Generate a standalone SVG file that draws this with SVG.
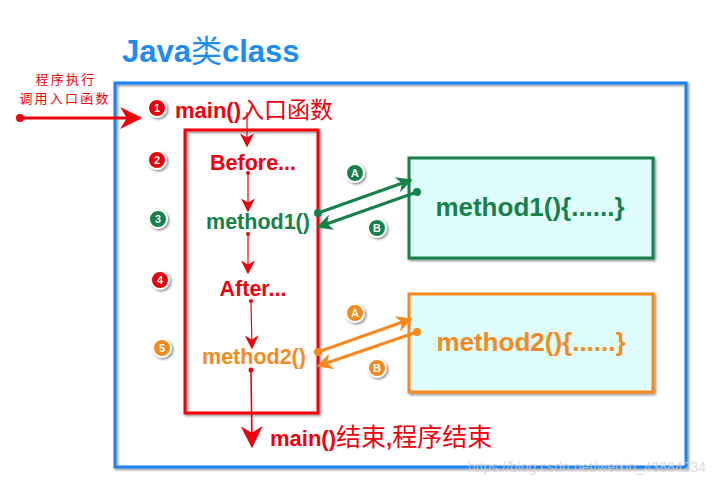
<svg xmlns="http://www.w3.org/2000/svg" width="717" height="485" viewBox="0 0 717 485">
<style>
.cn{font-family:"Liberation Sans","Noto Sans CJK SC",sans-serif;font-weight:bold}
.cj{font-family:"Noto Sans CJK SC",sans-serif;font-weight:normal}
.badge text{font-family:"Liberation Sans",sans-serif;font-weight:bold;font-size:11px;fill:#fff;text-anchor:middle}
.badge circle{stroke:#fff;stroke-width:2}
.red{fill:#F0000A}
.grn{fill:#17814A}
.org{fill:#F7891F}
</style>
<defs>
<filter id="sh" x="-10%" y="-10%" width="130%" height="130%">
<feDropShadow dx="1.5" dy="1.5" stdDeviation="1.2" flood-color="#000" flood-opacity="0.45"/>
</filter>
<marker id="ahRb" viewBox="0 0 10 10" refX="9" refY="5" markerWidth="14" markerHeight="14" orient="auto" markerUnits="userSpaceOnUse"><path d="M0,0 L10,5 L0,10 L3,5 Z" fill="#F0000A"/></marker>
<marker id="ahBig" viewBox="0 0 10 10" refX="9" refY="5" markerWidth="24" markerHeight="22" orient="auto" markerUnits="userSpaceOnUse"><path d="M0,0 L10,5 L0,10 L3,5 Z" fill="#F0000A"/></marker>
<marker id="ahG" viewBox="0 0 10 10" refX="9" refY="5" markerWidth="22" markerHeight="16" orient="auto" markerUnits="userSpaceOnUse"><path d="M0,0 L10,5 L0,10 L3,5 Z" fill="#17814A"/></marker>
<marker id="ahO" viewBox="0 0 10 10" refX="9" refY="5" markerWidth="22" markerHeight="16" orient="auto" markerUnits="userSpaceOnUse"><path d="M0,0 L10,5 L0,10 L3,5 Z" fill="#F7891F"/></marker>
</defs>
<rect width="717" height="485" fill="#fff"/>

<g id="title"><text class="cn" x="122" y="62" font-size="31" fill="#1E8CF0">Java<tspan class="cj">类</tspan>class</text></g>

<g id="java-class"><rect x="115" y="83" width="571" height="384" fill="none" stroke="#1E82F0" stroke-width="3" filter="url(#sh)"/></g>

<g id="caller-label">
<text x="66" y="84" font-family="Noto Sans CJK SC,sans-serif" font-size="13" letter-spacing="2.2" fill="#F0000A" text-anchor="middle">程序执行</text>
<text x="65" y="103" font-family="Noto Sans CJK SC,sans-serif" font-size="13" letter-spacing="2.2" fill="#F0000A" text-anchor="middle">调用入口函数</text>
</g>

<g id="main-box"><rect x="185" y="130" width="133" height="283" fill="none" stroke="#F0000A" stroke-width="3" filter="url(#sh)"/></g>

<g id="labels">
<text class="cn red" x="175" y="118" font-size="22">main()<tspan class="cj" font-size="23">入口函数</tspan></text>
<text class="cn red" x="253" y="170" font-size="21.5" text-anchor="middle">Before...</text>
<text class="cn grn" x="258" y="229" font-size="21.5" text-anchor="middle">method1()</text>
<text class="cn red" x="253" y="296" font-size="21.5" text-anchor="middle">After...</text>
<text class="cn org" x="254" y="364" font-size="21.5" text-anchor="middle">method2()</text>
<text class="cn red" x="270" y="446" font-size="22">main()<tspan class="cj" font-size="25">结束</tspan>,<tspan class="cj" font-size="25">程序结束</tspan></text>
</g>

<g id="method1-box"><rect x="409" y="158" width="244" height="100" fill="#DFFDFD" stroke="#17814A" stroke-width="3" filter="url(#sh)"/>
<text class="cn grn" x="530" y="216" font-size="26" text-anchor="middle">method1(){......}</text></g>

<g id="method2-box"><rect x="409" y="294" width="244" height="98" fill="#DFFDFD" stroke="#F7891F" stroke-width="3" filter="url(#sh)"/>
<text class="cn org" x="531" y="351" font-size="26" text-anchor="middle">method2(){......}</text></g>

<g id="connectors">
<circle cx="20" cy="118" r="4" fill="#F0000A"/>
<line x1="20" y1="118" x2="140" y2="118" stroke="#F0000A" stroke-width="3" marker-end="url(#ahBig)"/>
<line x1="247" y1="112" x2="247" y2="146" stroke="#F0000A" stroke-width="1.2" marker-end="url(#ahRb)"/>
<circle cx="248" cy="173" r="2" fill="#F0000A"/>
<line x1="248" y1="173" x2="248" y2="211" stroke="#F0000A" stroke-width="1.2" marker-end="url(#ahRb)"/>
<circle cx="248" cy="234" r="2" fill="#F0000A"/>
<line x1="248" y1="234" x2="248" y2="273" stroke="#F0000A" stroke-width="1.2" marker-end="url(#ahRb)"/>
<circle cx="251" cy="301" r="2" fill="#F0000A"/>
<line x1="251" y1="301" x2="252" y2="348" stroke="#F0000A" stroke-width="1.2" marker-end="url(#ahRb)"/>
<circle cx="251" cy="370" r="2.5" fill="#F0000A"/>
<line x1="251" y1="370" x2="252" y2="446" stroke="#F0000A" stroke-width="1.6" marker-end="url(#ahBig)"/>

<circle cx="318" cy="213" r="4" fill="#17814A"/>
<line x1="318" y1="213" x2="411" y2="180" stroke="#17814A" stroke-width="3" marker-end="url(#ahG)"/>
<circle cx="417" cy="192" r="4" fill="#17814A"/>
<line x1="417" y1="192" x2="318" y2="227" stroke="#17814A" stroke-width="3" marker-end="url(#ahG)"/>

<circle cx="318" cy="352" r="4" fill="#F7891F"/>
<line x1="318" y1="352" x2="411" y2="319" stroke="#F7891F" stroke-width="3" marker-end="url(#ahO)"/>
<circle cx="417" cy="332" r="4" fill="#F7891F"/>
<line x1="417" y1="332" x2="318" y2="366" stroke="#F7891F" stroke-width="3" marker-end="url(#ahO)"/>
</g>

<g id="badges" class="badge" filter="url(#sh)">
<g><circle cx="157" cy="108" r="9" fill="#E8000B"/><text x="157" y="112">1</text></g>
<g><circle cx="157" cy="160" r="9" fill="#E8000B"/><text x="157" y="164">2</text></g>
<g><circle cx="158" cy="219" r="9" fill="#17814A"/><text x="158" y="223">3</text></g>
<g><circle cx="160" cy="280" r="9" fill="#E8000B"/><text x="160" y="284">4</text></g>
<g><circle cx="162" cy="348" r="9" fill="#F7891F"/><text x="162" y="352">5</text></g>
<g><circle cx="355" cy="173" r="9" fill="#17814A"/><text x="355" y="177">A</text></g>
<g><circle cx="377" cy="228" r="9" fill="#17814A"/><text x="377" y="232">B</text></g>
<g><circle cx="355" cy="313" r="9" fill="#F7891F"/><text x="355" y="317">A</text></g>
<g><circle cx="377" cy="368" r="9" fill="#F7891F"/><text x="377" y="372">B</text></g>
</g>

<text x="706" y="472" font-family="Liberation Sans,sans-serif" font-size="14" fill="#D0D0D0" fill-opacity="0.75" text-anchor="end">https://blog.csdn.net/weixin_43884234</text>
</svg>
